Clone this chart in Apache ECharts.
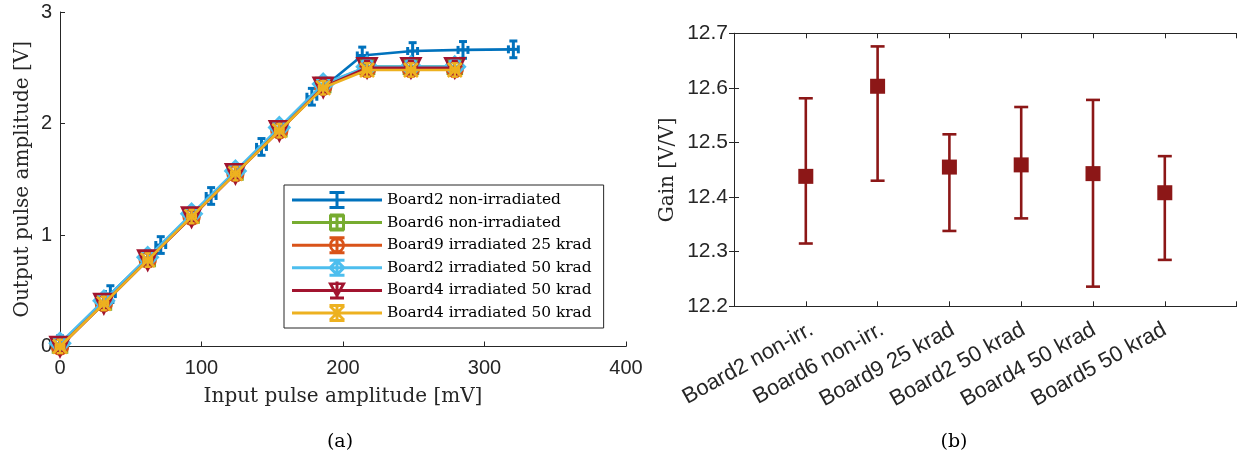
<!DOCTYPE html>
<html>
<head>
<meta charset="utf-8">
<script src="https://cdn.jsdelivr.net/npm/echarts@6/dist/echarts.min.js"></script>
<style>
  html, body { margin: 0; padding: 0; background: #fff; }
  #chart { width: 1238px; height: 454px; }
</style>
</head>
<body>
<div id="chart"></div>
<script>
// ---- (a) transfer curves: input pulse amplitude [mV] -> output amplitude [V]
const inputB2 = [0, 35.6, 71.2, 106.8, 142.4, 178, 213.6, 249.2, 284.8, 320.4];
const inputOthers = [0, 31, 62, 93, 124, 155, 186, 217, 248, 279];

const outB2 = [0.02, 0.47, 0.91, 1.35, 1.79, 2.24, 2.61, 2.65, 2.66, 2.665];
const outB6 = [0.01, 0.395, 0.785, 1.175, 1.56, 1.95, 2.345, 2.51, 2.51, 2.51];
const outB9 = [0.0, 0.39, 0.78, 1.165, 1.555, 1.94, 2.33, 2.49, 2.49, 2.49];
const outB2irr = [0.03, 0.41, 0.8, 1.19, 1.575, 1.965, 2.355, 2.51, 2.51, 2.51];
const outB4a = [0.0, 0.385, 0.775, 1.16, 1.55, 1.935, 2.325, 2.5, 2.5, 2.5];
const outB4b = [0.0, 0.385, 0.775, 1.165, 1.55, 1.935, 2.32, 2.48, 2.48, 2.48];

// measurement uncertainties (half widths)
const xErrB2 = [3.5, 3.5, 3.5, 3.5, 3.5, 3.5, 3.5, 3.5, 3.5, 3.5];
const yErrB2 = [0.075, 0.075, 0.075, 0.075, 0.075, 0.075, 0.075, 0.075, 0.075, 0.075];
const xErrOthers = [3, 3, 3, 3, 3, 3, 3, 3, 3, 3];
const yErrOthers = [0.06, 0.06, 0.06, 0.06, 0.06, 0.06, 0.06, 0.06, 0.06, 0.06];

const boardLabels = [
  'Board2 non-irradiated',
  'Board6 non-irradiated',
  'Board9 irradiated 25 krad',
  'Board2 irradiated 50 krad',
  'Board4 irradiated 50 krad',
  'Board4 irradiated 50 krad'
];

const xTicksA = [0, 100, 200, 300, 400];
const yTicksA = [0, 1, 2, 3];

// ---- (b) gain per board
const gainBoards = ['Board2 non-irr.', 'Board6 non-irr.', 'Board9 25 krad', 'Board2 50 krad', 'Board4 50 krad', 'Board5 50 krad'];
const gainMean = [12.438, 12.603, 12.455, 12.459, 12.443, 12.408];
const gainLow  = [12.315, 12.430, 12.338, 12.361, 12.236, 12.285];
const gainHigh = [12.581, 12.676, 12.515, 12.565, 12.578, 12.475];

// ---------------------------------------------------------------------------
const AX = '#262626';
const colors = ['#0072BD', '#77AC30', '#D95319', '#4DBEEE', '#A2142F', '#EDB120'];
const gainColor = '#8c1717';

const seriesX = [inputB2, inputOthers, inputOthers, inputOthers, inputOthers, inputOthers];
const seriesY = [outB2, outB6, outB9, outB2irr, outB4a, outB4b];
const seriesXErr = [xErrB2, xErrOthers, xErrOthers, xErrOthers, xErrOthers, xErrOthers];
const seriesYErr = [yErrB2, yErrOthers, yErrOthers, yErrOthers, yErrOthers, yErrOthers];
// the two Board4 entries share a label; keep their series names distinct
const seriesNames = boardLabels.map((n, i) => i === 5 ? n + '\u200b' : n);

const markers = [
  { symbol: 'none', size: 0, rotate: 0 },
  { symbol: 'rect', size: 14, rotate: 0 },
  { symbol: 'circle', size: 16, rotate: 0 },
  { symbol: 'diamond', size: 20, rotate: 0 },
  { symbol: 'triangle', size: 19, rotate: 180 },
  { symbol: 'path://M0 0L10 10M10 0L0 10', size: 14, rotate: 0 }
];
const barStyle = [
  { cap: 8, width: 3 },
  { cap: 6, width: 2.4 },
  { cap: 6, width: 2.4 },
  { cap: 6, width: 2.4 },
  { cap: 6, width: 2.4 },
  { cap: 6, width: 2.4 }
];

// legend glyphs (90 x 18): line sample + error bar + marker outline
const LINE = 'M0 7.5H90V10.5H0Z';
const VBAR = 'M43.5 0H46.5V18H43.5Z';
const CAPS = 'M37.5 0H52.5V3H37.5Z M37.5 15H52.5V18H37.5Z';
const legendIcons = [
  'path://' + LINE + ' ' + VBAR + ' ' + CAPS,
  'path://' + LINE + ' ' + VBAR + ' M37 1H53V17H37Z M40 4V14H50V4Z M38 0H52V2.5H38Z M38 15.5H52V18H38Z',
  'path://' + LINE + ' ' + VBAR + ' ' + CAPS + ' M37 9A8 8 0 1 1 53 9A8 8 0 1 1 37 9Z M39.8 9A5.2 5.2 0 1 0 50.2 9A5.2 5.2 0 1 0 39.8 9Z',
  'path://' + LINE + ' ' + VBAR + ' ' + CAPS + ' M45 0L54 9L45 18L36 9Z M45 4.2L40.2 9L45 13.8L49.8 9Z',
  'path://' + LINE + ' ' + VBAR + ' M36 1H54L45 17Z M40.8 3.6L45 11.6L49.2 3.6Z M38 15H52V18H38Z',
  'path://' + LINE + ' ' + VBAR + ' ' + CAPS + ' M37 3L39 1L53 15L51 17Z M51 1L53 3L39 17L37 15Z'
];

function crossErrorBars(color, cap, width) {
  return function (params, api) {
    const x = api.value(0), y = api.value(1), ex = api.value(2), ey = api.value(3);
    const c = api.coord([x, y]);
    const l = api.coord([x - ex, y]), r = api.coord([x + ex, y]);
    const t = api.coord([x, y + ey]), b = api.coord([x, y - ey]);
    const h = cap / 2;
    const style = { stroke: color, lineWidth: width, fill: null };
    return {
      type: 'group',
      children: [
        { type: 'line', shape: { x1: c[0], y1: t[1], x2: c[0], y2: b[1] }, style },
        { type: 'line', shape: { x1: c[0] - h, y1: t[1], x2: c[0] + h, y2: t[1] }, style },
        { type: 'line', shape: { x1: c[0] - h, y1: b[1], x2: c[0] + h, y2: b[1] }, style },
        { type: 'line', shape: { x1: l[0], y1: c[1], x2: r[0], y2: c[1] }, style },
        { type: 'line', shape: { x1: l[0], y1: c[1] - h, x2: l[0], y2: c[1] + h }, style },
        { type: 'line', shape: { x1: r[0], y1: c[1] - h, x2: r[0], y2: c[1] + h }, style }
      ]
    };
  };
}

function gainErrorBar(params, api) {
  const x = api.value(0), lo = api.value(1), hi = api.value(2);
  const a = api.coord([x, hi]), b = api.coord([x, lo]);
  const h = 7;
  const style = { stroke: gainColor, lineWidth: 2.6, fill: null };
  return {
    type: 'group',
    children: [
      { type: 'line', shape: { x1: a[0], y1: a[1], x2: b[0], y2: b[1] }, style },
      { type: 'line', shape: { x1: a[0] - h, y1: a[1], x2: a[0] + h, y2: a[1] }, style },
      { type: 'line', shape: { x1: b[0] - h, y1: b[1], x2: b[0] + h, y2: b[1] }, style }
    ]
  };
}

const series = [];
seriesY.forEach((ys, i) => {
  const xs = seriesX[i];
  series.push({
    type: 'custom',
    name: seriesNames[i] + ' error',
    xAxisIndex: 0, yAxisIndex: 0,
    z: 2 + i * 2,
    renderItem: crossErrorBars(colors[i], barStyle[i].cap, barStyle[i].width),
    data: ys.map((y, k) => [xs[k], y, seriesXErr[i][k], seriesYErr[i][k]]),
    silent: true
  });
  series.push({
    type: 'line',
    name: seriesNames[i],
    xAxisIndex: 0, yAxisIndex: 0,
    z: 3 + i * 2,
    data: ys.map((y, k) => [xs[k], y]),
    symbol: markers[i].symbol,
    symbolSize: markers[i].size,
    symbolRotate: markers[i].rotate,
    showSymbol: markers[i].symbol !== 'none',
    clip: false,
    lineStyle: { color: colors[i], width: 2.6 },
    itemStyle: { color: 'rgba(0,0,0,0)', borderColor: colors[i], borderWidth: 2.6 },
    emphasis: { disabled: true },
    silent: true
  });
});

series.push({
  type: 'custom',
  name: 'Gain error',
  xAxisIndex: 1, yAxisIndex: 1,
  z: 2,
  renderItem: gainErrorBar,
  data: gainMean.map((m, k) => [k + 1, gainLow[k], gainHigh[k]]),
  silent: true
});
series.push({
  type: 'scatter',
  name: 'Gain',
  xAxisIndex: 1, yAxisIndex: 1,
  z: 3,
  symbol: 'rect',
  symbolSize: 15,
  data: gainMean.map((m, k) => [k + 1, m]),
  itemStyle: { color: gainColor, opacity: 1 },
  emphasis: { disabled: true },
  silent: true
});

const axisLine = { show: true, lineStyle: { color: AX, width: 1 } };
const axisTick = { show: true, inside: true, length: 5, lineStyle: { color: AX, width: 1 } };
const sansA = { fontFamily: 'Liberation Sans', fontSize: 20, color: AX };
const sansB = { fontFamily: 'Liberation Sans', fontSize: 21, color: AX };
const serifTitle = { fontFamily: 'DejaVu Serif', fontSize: 20, color: AX };

const option = {
  animation: false,
  backgroundColor: '#fff',
  title: [
    { text: '(a)', left: 335, top: 428, textAlign: 'center',
      textStyle: { fontFamily: 'DejaVu Serif', fontSize: 19, fontWeight: 'normal', color: '#000' } },
    { text: '(b)', left: 949, top: 428, textAlign: 'center',
      textStyle: { fontFamily: 'DejaVu Serif', fontSize: 19, fontWeight: 'normal', color: '#000' } }
  ],
  grid: [
    { left: 60, top: 12, width: 566, height: 334.5 },
    { left: 734, top: 33.3, width: 502.6, height: 273 },
    { left: 741, top: 33.3, width: 502.6, height: 273 }
  ],
  xAxis: [
    {
      gridIndex: 0, type: 'value', min: xTicksA[0], max: xTicksA[xTicksA.length - 1], interval: 100,
      axisLine, axisTick, splitLine: { show: false },
      axisLabel: Object.assign({ margin: 12 }, sansA),
      name: 'Input pulse amplitude [mV]', nameLocation: 'middle', nameGap: 40,
      nameTextStyle: serifTitle
    },
    {
      gridIndex: 1, type: 'value', min: 0, max: 7, interval: 1,
      axisLine, axisTick, splitLine: { show: false }, axisLabel: { show: false }
    },
    {
      gridIndex: 1, type: 'value', position: 'top', min: 0, max: 7, interval: 1,
      axisLine, axisTick, splitLine: { show: false }, axisLabel: { show: false }
    },
    {
      // board names, placed under the gain plot
      gridIndex: 2, type: 'value', min: 0, max: 7, interval: 1,
      axisLine: { show: false }, axisTick: { show: false }, splitLine: { show: false },
      axisLabel: Object.assign({
        rotate: 29, margin: 22,
        formatter: v => (v >= 1 && v <= gainBoards.length) ? gainBoards[Math.round(v) - 1] : ''
      }, { fontFamily: 'Liberation Sans', fontSize: 22, color: AX })
    }
  ],
  yAxis: [
    {
      gridIndex: 0, type: 'value', min: yTicksA[0], max: yTicksA[yTicksA.length - 1], interval: 1,
      axisLine, axisTick, splitLine: { show: false },
      axisLabel: Object.assign({ margin: 8 }, sansA),
      name: 'Output pulse amplitude [V]', nameLocation: 'middle', nameGap: 27,
      nameTextStyle: serifTitle
    },
    {
      gridIndex: 1, type: 'value', min: 12.2, max: 12.7, interval: 0.1,
      axisLine, axisTick, splitLine: { show: false },
      axisLabel: Object.assign({ margin: 6, formatter: v => v.toFixed(1) }, sansB),
      name: 'Gain [V/V]', nameLocation: 'middle', nameGap: 56,
      nameTextStyle: serifTitle
    },
    {
      gridIndex: 1, type: 'value', position: 'right', min: 12.2, max: 12.7, interval: 0.1,
      axisLine, axisTick, splitLine: { show: false }, axisLabel: { show: false }
    },
    {
      gridIndex: 2, type: 'value', min: 0, max: 1, show: false
    }
  ],
  legend: {
    orient: 'vertical',
    left: 284, top: 185,
    itemWidth: 90, itemHeight: 18, itemGap: 4.6,
    padding: [6, 12, 6, 8],
    borderColor: AX, borderWidth: 1, backgroundColor: '#fff',
    selectedMode: false,
    textStyle: { fontFamily: 'DejaVu Serif', fontSize: 15.4, color: '#000' },
    itemStyle: { borderWidth: 0 },
    formatter: name => name.replace('\u200b', ''),
    data: seriesNames.map((n, i) => ({ name: n, icon: legendIcons[i], itemStyle: { color: colors[i], borderWidth: 0 } }))
  },
  series
};

const chart = echarts.init(document.getElementById('chart'), null, { renderer: 'canvas' });
chart.setOption(option);
</script>
</body>
</html>
